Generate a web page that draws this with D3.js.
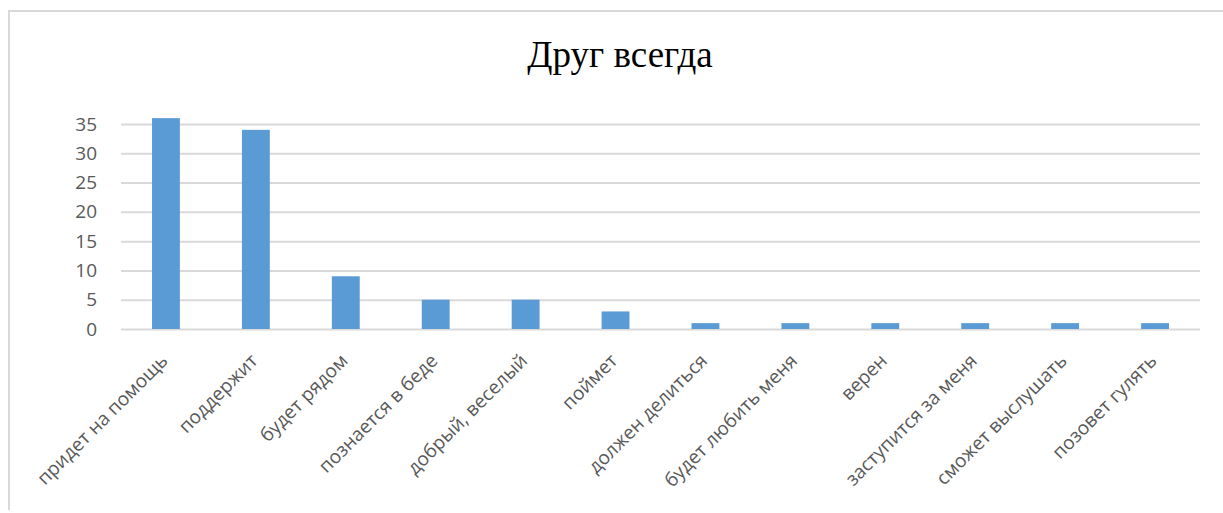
<!DOCTYPE html>
<html><head><meta charset="utf-8">
<script src="https://cdn.jsdelivr.net/npm/d3@7"></script>
<style>body{margin:0;background:#fff}</style>
</head><body>
<svg id="c" width="1223" height="513"></svg>
<script>
const title = "Друг всегда";
const categories = ["придет на помощь","поддержит","будет рядом","познается в беде","добрый, веселый","поймет","должен делиться","будет любить меня","верен","заступится за меня","сможет выслушать","позовет гулять"];
const values = [36,34,9,5,5,3,1,1,1,1,1,1];
const yTicks = [0,5,10,15,20,25,30,35];

const svg = d3.select("#c");
// chart border
svg.append("path").attr("d","M9,510 L9,11 L1240,11").attr("fill","none").attr("stroke","#d9d9d9").attr("stroke-width",2);

const L=121, R=1200, T=124, B=329;
const x = d3.scaleBand().domain(categories).range([L,R]).paddingInner(0.69).paddingOuter(0.345);
const y = d3.scaleLinear().domain([0,35]).range([B,T]);

svg.append("text").attr("x",620).attr("y",67).attr("text-anchor","middle")
  .attr("font-family","Liberation Serif, Times New Roman, serif").attr("font-size",37).attr("fill","#000").text(title);

const yAxis = d3.axisLeft(y).tickValues(yTicks).tickSize(-(R-L)).tickPadding(24);
const gy = svg.append("g").attr("transform",`translate(${L},0)`).call(yAxis);
gy.select(".domain").remove();
gy.selectAll("line").attr("stroke","#d9d9d9").attr("stroke-width",2);
gy.selectAll("text").attr("font-family","Open Sans, sans-serif").attr("font-size",19).attr("fill","#595959");

svg.append("g").selectAll("rect").data(values).join("rect")
  .attr("x",(d,i)=>x(categories[i])).attr("width",x.bandwidth())
  .attr("y",d=>y(d)).attr("height",d=>B-y(d)).attr("fill","#5b9bd5");

const xAxis = d3.axisBottom(x).tickSize(0).tickPadding(0);
const gx = svg.append("g").attr("transform",`translate(0,${B})`).call(xAxis);
gx.select(".domain").remove();
gx.selectAll("text").attr("font-family","Open Sans, sans-serif").attr("font-size",19).attr("fill","#595959")
  .attr("text-anchor","end").attr("dy",0).attr("transform","translate(3,33) rotate(-45)");
</script>
</body></html>
